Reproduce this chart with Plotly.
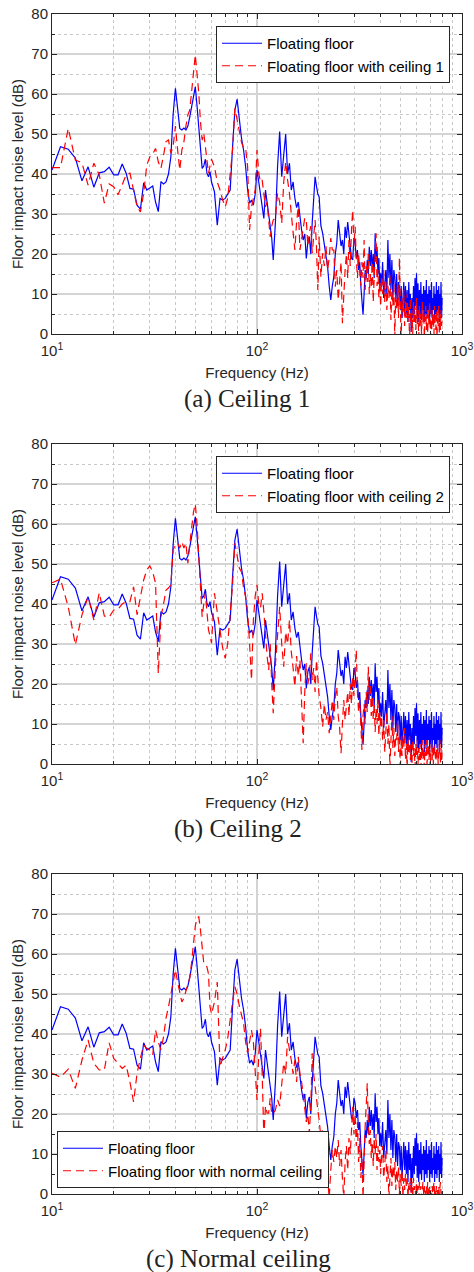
import plotly.graph_objects as go

# ---------------- data ----------------
freq = (list(range(10, 61)) + list(range(62, 121, 2)) + list(range(123, 202, 3))
        + list(range(205, 402, 4)) + list(range(405, 801, 5)))

floating_floor = [
    41, 46.8, 46.2, 44, 38.3, 41.8, 36.7, 40.3, 40.6, 41.7,
    39.8, 39.8, 42.5, 40.2, 36.4, 36.2, 32.2, 31.2, 37.8, 36,
    36.5, 37, 33, 30.6, 38.1, 37.5, 38, 40, 44.3, 55,
    61.4, 56, 51.4, 51, 51.5, 51, 52, 54.3, 57, 60,
    61.8, 57, 52, 46, 41.4, 42, 43.7, 40.2, 39.3, 40.6,
    38,
    35.6, 27.2, 33.9, 33.5, 33.9, 35, 36, 46.8, 56, 58.7,
    53.5, 49, 46, 41.8, 36, 32.7, 33.5, 32.2, 35, 41,
    38, 34.8, 31, 28.9, 36, 33, 30.2, 28, 24, 18.5,
    28, 42, 50.6, 39.3, 44, 50, 40, 42.7, 36, 38,
    34, 31.6, 33, 28.9, 26, 23.5, 25, 18.9, 23, 24.3,
    20, 28, 35, 39.3, 37, 35, 34.3,
    27, 25.2, 22.7, 20, 16.8, 12, 8.5, 12, 14.3, 20,
    22.7, 28.5, 25, 22, 23.5, 20, 26.8, 24, 28, 24,
    21.8, 19, 18.5, 24, 22.7, 19, 21, 16, 18, 12,
    8, 4.8, 10, 16, 14, 18.5, 15, 21.8, 17, 21,
    16, 20, 14, 25.2, 18, 21.8, 15, 19, 12, 15.2,
    11.8, 18, 9, 11.8, 16, 10, 23.5, 14, 20, 11,
    18.5, 9, 16, 14.3, 8, 15, 7, 13, 11.8, 6,
    12, 4, 8.5, 13, 6, 12, 5, 11, 3, 13,
    6, 10, 0.5, 9, 4, 12, 5, 14, 7, 15.2,
    4, 12.7, 3, 11, 5, 13, 3.5, 10, 6, 12,
    3, 11, 5, 13.5, 4, 10, 6, 12, 3, 11,
    5, 13, 4, 9, 6, 12, 3, 10, 5, 13,
    4, 11, 6, 12, 3, 10, 5, 13, 4, 9,
]

with_ceiling_1 = [
    41.6, 41.6, 51.4, 43.5, 42.8, 37.2, 42.7, 39.8, 32.7, 37.5,
    36.8, 34.8, 37.3, 39.8, 40.2, 36, 31.8, 30.5, 35.2, 42.2,
    44.3, 45, 46.4, 43, 41.4, 44.7, 48.1, 48.5, 45.2, 47,
    52, 46, 41, 46, 48, 52, 54.8, 56, 60.2, 65,
    69.8, 65, 60.2, 53, 48.5, 50.2, 46.8, 43, 40.2, 42,
    43.7,
    41.8, 38, 36, 33.5, 31.8, 34, 40, 46, 56.4, 53.5,
    51, 48, 46.4, 46.4, 41.8, 26, 31.8, 34, 36, 46,
    40.2, 38, 38.5, 35, 31.8, 33, 28, 24.3, 27, 28.5,
    29, 35.2, 33, 27.7, 38, 43, 38.5, 35.2, 30, 26,
    21, 28, 31.8, 21, 23.5, 26, 29, 28.5, 22, 25.2,
    27, 20.2, 24, 28.5, 22, 11, 24.3,
    14.3, 20.2, 17, 22, 16, 19, 24, 21, 21, 11.8,
    16, 8.5, 14, 18, 2.7, 12, 16, 20, 14, 23.5,
    17, 26, 31, 22, 26.8, 19, 14, 20, 16.8, 12,
    18, 14, 23.5, 11, 17, 13, 20, 10, 15, 12,
    18, 8, 14, 21, 25.2, 12, 16, 9, 13, 6.8,
    14, 10, 16, 8, 13, 6, 12, 9, 15, 3.5,
    11, 7, 13, -1, 10, 6, 12, 4, 19, 8,
    -2, 9, 5, 11, 2, 8, 4, 10, 3, 7,
    -2, 9, 2, 6, 0, 8, 3, 7, 1, 9,
    2, 6, -1, 7, 2, 5, 0, 8, 3, 6,
    -1, 4, 7, 1, 5, 0, 6, 2, 8, 1,
    4, -1, 6, 2, 5, 0, 7, 3, 1, 6,
    -1, 4, 2, 7, 0, 5, 1, 6, 2, 4,
]

with_ceiling_2 = [
    45.3, 46.2, 39.3, 29.8, 37.3, 41.8, 36, 42.8, 37, 36.7,
    38.5, 38.7, 40, 40.6, 40.6, 44.3, 37.3, 42.3, 46, 48.5,
    49.5, 48, 45.2, 22.7, 36.8, 40, 43.5, 44, 44.8, 53.5,
    55, 55.2, 54, 55.5, 54, 55.2, 50.2, 55, 60, 63,
    65, 60, 52, 45, 36.8, 40, 42.7, 38, 33.5, 32,
    30.2,
    42.7, 37.7, 33.5, 29, 26.4, 30.2, 37.7, 45, 55.2, 52,
    49, 48, 44, 41.8, 38, 30, 21, 36, 42, 44.8,
    40, 39, 42.7, 38, 32, 27, 23.5, 30, 20, 12.7,
    25, 33, 39.3, 30, 24.3, 33, 30, 36, 28, 24,
    19.3, 27, 22, 26, 15, 5.2, 18, 25.2, 20, 22,
    27.7, 21, 24, 18, 26, 20, 17,
    14, 9.3, 15, 11, 13, 7.7, 12, 16, 11, 17,
    19.3, 12, 9, 2.7, 10, 16, 11, 14.3, 18, 12,
    20, 15, 22, 17, 24, 28.5, 18, 13, 16, 9,
    3.5, 12, 15, 10, 18, 13, 24.3, 16, 20, 12,
    17, 11, 15, 8, 14, 10, 16, 7, 13, 9,
    12, 6, 11, 3, 9, 13, 5, 10, -1, 8,
    12, 4, 9, 2, 7, 6, 11, 3, 8, -2,
    6, 2, 7, 4, 9, 1, 5, -1, 6, 3,
    7, 1, 5, 0, 6, 2, 4, -1, 5, 2,
    6, 0, 4, 1, 5, -1, 3, 6, 1, 4,
    -1, 5, 2, 6, 0, 3, 5, 1, 4, -1,
    3, 6, 1, 4, 0, 5, 2, 3, -1, 4,
    1, 5, 0, 3, 2, 6, 0, 4, 1, 3,
]

with_normal_ceiling = [
    30.2, 29.2, 31.2, 26.4, 33.5, 38.5, 32.7, 31, 31, 37.8,
    33.9, 32.7, 31.4, 32.2, 28, 23, 30.2, 34, 37.2, 36.4,
    36, 34.8, 41, 38, 36, 39.3, 44, 46.8, 50, 52.7,
    56, 53, 50, 48, 49, 50.6, 52, 54, 58, 63,
    67, 69, 69.3, 66, 61, 57.7, 57, 56.8, 55, 46.8,
    45,
    48, 53, 31.8, 34, 36, 39, 44.3, 48, 51.8, 50,
    47, 45, 42.7, 38, 35.2, 38, 41, 38, 30, 23.5,
    35, 41.4, 30, 14.3, 22, 20.2, 20.2, 24, 20, 20.2,
    21, 23.5, 22, 28, 32.7, 30, 39.3, 36, 33.5, 30,
    33.5, 28, 34.3, 30, 28, 25, 22, 18, 20, 15.2,
    22, 35.2, 30, 26.5, 24, 21, 18.5,
    14, 16, 10, 6.8, 4, -1, 6, 11, 8, 12,
    9, 13.5, 7, 11, 4, -1, 8, 12, 6, 14,
    10, 17, 21.8, 15, 20, 12, 18, 8, 14, 4,
    9, -1, 10, 17, 22, 27.7, 18, 12.5, 16, 9,
    13, 7, 14, 10, 15, 6, 12, 8, 11, 5,
    9, 12, 4, 8, 11, 3, 7, -1, 6, 9,
    2, 7, 4, 8, 1, 6, 3, 7, 0, 5,
    2, 6, -1, 4, 1, 5, 2, 4, -1, 3,
    1, 4, 0, 3, -1, 4, 1, 2, -1, 3,
    0, 2, -1, 3, 1, 2, -1, 1, 3, 0,
    2, -1, 1, 2, 0, 3, -1, 1, 2, 0,
    1, -1, 2, 0, 1, 3, 0, 1, -1, 2,
    0, 1, -1, 2, 0, 1, 3, 0, 1, 1,
]

for s in (floating_floor, with_ceiling_1, with_ceiling_2, with_normal_ceiling):
    assert len(s) == len(freq), (len(s), len(freq))

x_major = [10, 100, 1000]
x_major_text = ["10<sup>1</sup>", "10<sup>2</sup>", "10<sup>3</sup>"]
x_minor = [20, 30, 40, 50, 60, 70, 80, 90, 200, 300, 400, 500, 600, 700, 800, 900]
y_ticks = [0, 10, 20, 30, 40, 50, 60, 70, 80]

panels = [
    ("Floating floor with ceiling 1", with_ceiling_1, "(a) Ceiling 1"),
    ("Floating floor with ceiling 2", with_ceiling_2, "(b) Ceiling 2"),
    ("Floating floor with normal ceiling", with_normal_ceiling, "(c) Normal ceiling"),
]

# ---------------- figure ----------------
W, H = 474, 1272
AX = "#262626"
SANS = "Liberation Sans, Arial, sans-serif"
x_dom = [52 / W, 462 / W]
y_px = [(14, 334), (444, 764), (874, 1194)]
caption_pos = [(247, 399), (238, 829), (238, 1259)]

fig = go.Figure()
layout = dict(width=W, height=H, margin=dict(l=0, r=0, t=0, b=0, autoexpand=False),
              paper_bgcolor="white", plot_bgcolor="white", showlegend=True,
              font=dict(family=SANS, color=AX))
annotations = []

for i, (red_name, red_vals, caption) in enumerate(panels):
    n = i + 1
    sfx = "" if n == 1 else str(n)
    leg = "legend" if n == 1 else f"legend{n}"
    fig.add_trace(go.Scatter(x=freq, y=floating_floor, mode="lines", name="Floating floor",
                             line=dict(color="#0000ff", width=1.2),
                             xaxis="x" + sfx, yaxis="y" + sfx, legend=leg))
    fig.add_trace(go.Scatter(x=freq, y=red_vals, mode="lines", name=red_name,
                             line=dict(color="#ff0000", width=1.2, dash="8px,5px"),
                             xaxis="x" + sfx, yaxis="y" + sfx, legend=leg))
    top, bot = y_px[i]
    dom = [1 - bot / H, 1 - top / H]
    layout["xaxis" + sfx] = dict(
        type="log", range=[1, 3], domain=x_dom, anchor="y" + sfx, automargin=False,
        showline=True, linecolor=AX, linewidth=1, mirror="ticks",
        ticks="inside", ticklen=5, tickcolor=AX, ticklabelstandoff=3,
        tickmode="array", tickvals=x_major, ticktext=x_major_text,
        tickfont=dict(size=15, color=AX, family=SANS),
        showgrid=True, gridcolor="#d4d4d4", gridwidth=1.5, zeroline=False,
        minor=dict(tickmode="array", tickvals=x_minor, ticks="inside", ticklen=3,
                   tickcolor=AX, showgrid=True, gridcolor="#c8c8c8",
                   griddash="dot", gridwidth=1),
        title=dict(text="Frequency (Hz)", font=dict(size=15, color=AX, family=SANS),
                   standoff=9),
    )
    layout["yaxis" + sfx] = dict(
        range=[0, 80], domain=dom, anchor="x" + sfx, automargin=False,
        showline=True, linecolor=AX, linewidth=1, mirror="ticks",
        ticks="inside", ticklen=5, tickcolor=AX,
        tickmode="array", tickvals=y_ticks,
        tickfont=dict(size=15, color=AX, family=SANS),
        showgrid=True, gridcolor="#d4d4d4", gridwidth=1.5, zeroline=False,
        minor=dict(dtick=5, ticks="inside", ticklen=3, tickcolor=AX,
                   showgrid=True, gridcolor="#c8c8c8", griddash="dot", gridwidth=1),
        title=dict(text="Floor impact noise level (dB)",
                   font=dict(size=15, color=AX, family=SANS), standoff=4),
    )
    leg_cfg = dict(bgcolor="white", bordercolor=AX, borderwidth=1,
                   font=dict(size=15, color="black", family=SANS),
                   itemwidth=40, tracegroupgap=0)
    if n < 3:
        leg_cfg.update(x=450 / W, xanchor="right", y=1 - (top + 12) / H, yanchor="top")
    else:
        leg_cfg.update(x=57 / W, xanchor="left", y=1 - 1188 / H, yanchor="bottom")
    layout[leg] = leg_cfg
    cx, cy = caption_pos[i]
    annotations.append(dict(text=caption, x=cx / W, y=1 - cy / H, xref="paper", yref="paper",
                            xanchor="center", yanchor="middle", showarrow=False,
                            font=dict(family="Liberation Serif, DejaVu Serif, serif",
                                      size=25, color="#222222")))

layout["annotations"] = annotations
fig.update_layout(**layout)
fig.write_html("out.html", config={"displayModeBar": False},
               post_script="document.body.style.margin='0';document.body.style.overflow='hidden';")
